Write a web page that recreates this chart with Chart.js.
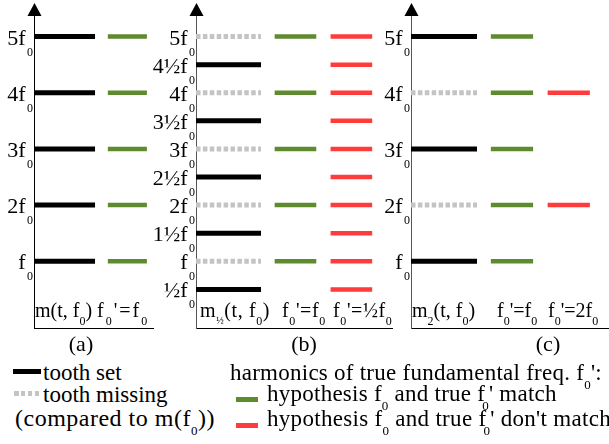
<!DOCTYPE html>
<html>
<head>
<meta charset="utf-8">
<script src="https://cdn.jsdelivr.net/npm/chart.js@4/dist/chart.umd.min.js"></script>
<style>
html,body{margin:0;padding:0;background:#fff;}
#wrap{position:relative;width:609px;height:444px;overflow:hidden;font-family:"Liberation Serif","Times New Roman",serif;color:#000;}
#wrap canvas{position:absolute;top:0;}
.t{position:absolute;white-space:nowrap;line-height:0;}
.f20{font-size:20px;}
.f22{font-size:22px;}
.f23{font-size:23px;}
.s{position:relative;font-size:12px;top:8px;}
.s13{font-size:13px;top:9px;}
.sh{font-size:10px;top:7px;}
.sw{position:absolute;height:5px;}
</style>
</head>
<body>
<div id="wrap">
  <canvas id="ca"></canvas>
  <canvas id="cb"></canvas>
  <canvas id="cc"></canvas>

  <!-- column labels under each panel -->
  <div class="t f20" style="left:35px;top:310px">m(t, f<span class="s">0</span>)</div>
  <div class="t f20" style="left:97px;top:310px;letter-spacing:2px">f<span class="s">0</span>'=f<span class="s">0</span></div>

  <div class="t f20" style="left:200px;top:310px;letter-spacing:0.6px">m<span class="s sh">½</span>(t, f<span class="s">0</span>)</div>
  <div class="t f20" style="left:282px;top:310px;letter-spacing:0.6px">f<span class="s">0</span>'=f<span class="s">0</span></div>
  <div class="t f20" style="left:333px;top:310px;letter-spacing:0.6px">f<span class="s">0</span>'=½f<span class="s">0</span></div>

  <div class="t f20" style="left:412px;top:310px">m<span class="s">2</span>(t, f<span class="s">0</span>)</div>
  <div class="t f20" style="left:497px;top:310px">f<span class="s">0</span>'=f<span class="s">0</span></div>
  <div class="t f20" style="left:548px;top:310px">f<span class="s">0</span>'=2f<span class="s">0</span></div>

  <!-- panel captions -->
  <div class="t f22" style="left:81px;top:344px;transform:translateX(-50%)">(a)</div>
  <div class="t f22" style="left:304px;top:344px;transform:translateX(-50%)">(b)</div>
  <div class="t f22" style="left:548px;top:344px;transform:translateX(-50%)">(c)</div>

  <!-- legend -->
  <div class="sw" style="left:13px;top:369px;width:28px;background:#000"></div>
  <div class="t f23" style="left:43px;top:373px">tooth set</div>
  <div class="sw" style="left:14px;top:391px;width:27px;background:repeating-linear-gradient(to right,#c4c4c4 0,#c4c4c4 4.5px,transparent 4.5px,transparent 6.9px)"></div>
  <div class="t f23" style="left:43px;top:395px">tooth missing</div>
  <div class="t" style="font-size:24px;left:15px;top:418px;letter-spacing:0.5px">(compared to m(f<span class="s s13">0</span>))</div>

  <div class="t f23" style="left:230px;top:373px;letter-spacing:0.25px">harmonics of true fundamental freq. f<span class="s s13">0</span>':</div>
  <div class="sw" style="left:236px;top:397px;width:22px;background:#5e8b2e"></div>
  <div class="t f23" style="left:267px;top:394px;letter-spacing:0.25px">hypothesis f<span class="s s13">0</span> and true f<span class="s s13" style="margin-left:-3px">0</span>' match</div>
  <div class="sw" style="left:236px;top:423px;width:22px;background:#ff3b3b"></div>
  <div class="t f23" style="left:267px;top:419px;letter-spacing:0.3px">hypothesis f<span class="s s13">0</span> and true f<span class="s s13" style="margin-left:-3px">0</span>' don't match</div>
</div>

<script>
// ---------- data (harmonic levels, in multiples of f0) ----------
// y-axis tick values and their label texts (subscript 0 is appended when drawn)
const ticksA = [1, 2, 3, 4, 5];
const tickTextA = ['f', '2f', '3f', '4f', '5f'];
const ticksB = [0.5, 1, 1.5, 2, 2.5, 3, 3.5, 4, 4.5, 5];
const tickTextB = ['½f', 'f', '1½f', '2f', '2½f', '3f', '3½f', '4f', '4½f', '5f'];
const ticksC = [1, 2, 3, 4, 5];
const tickTextC = ['f', '2f', '3f', '4f', '5f'];

// panel (a): m(t, f0)
const toothSetA = [1, 2, 3, 4, 5];
const matchA = [1, 2, 3, 4, 5];

// panel (b): m_1/2(t, f0)
const toothSetB = [0.5, 1.5, 2.5, 3.5, 4.5];
const toothMissingB = [1, 2, 3, 4, 5];
const matchB = [1, 2, 3, 4, 5];
const mismatchB = [0.5, 1, 1.5, 2, 2.5, 3, 3.5, 4, 4.5, 5];

// panel (c): m_2(t, f0)
const toothSetC = [1, 3, 5];
const toothMissingC = [2, 4];
const matchC = [1, 2, 3, 4, 5];
const mismatchC = [2, 4];

// ---------- styling / layout ----------
const COL = { tooth: [0, 1], match: [1.21, 1.85], mismatch: [2.07, 2.71] };
const STYLE = {
  toothSet:     { borderColor: '#000000', borderWidth: 5 },
  toothMissing: { borderColor: '#c4c4c4', borderWidth: 5, borderDash: [4.5, 2.4] },
  match:        { borderColor: '#5e8b2e', borderWidth: 4.5 },
  mismatch:     { borderColor: '#ff3b3b', borderWidth: 4.5 }
};
const Y_MIN = -0.187, Y_MAX = 5.366;
const CANVAS_H = 344, PLOT_TOP = 16, PLOT_BOTTOM = 328;
const FONT = '"Liberation Serif", "Times New Roman", serif';

function segs(values, span) {
  const pts = [];
  values.forEach(v => {
    pts.push({ x: span[0], y: v }, { x: span[1], y: v }, { x: span[1], y: null });
  });
  return pts;
}
function ds(label, values, span, style) {
  return Object.assign({
    label, data: segs(values, span), pointRadius: 0, pointHoverRadius: 0,
    spanGaps: false, tension: 0, borderCapStyle: 'butt', fill: false
  }, style);
}

const deco = {
  id: 'deco',
  afterDraw(chart, args, opts) {
    const { ctx, chartArea } = chart;
    const y = chart.scales.y;
    const ax = Math.floor(chartArea.left) + 0.5;
    ctx.save();
    // arrow head on the vertical axis
    ctx.fillStyle = '#000';
    ctx.beginPath();
    ctx.moveTo(ax, chartArea.top - 13);
    ctx.lineTo(ax - 7, chartArea.top);
    ctx.lineTo(ax + 7, chartArea.top);
    ctx.closePath();
    ctx.fill();
    // tick labels  "<n>f" with subscript 0
    ctx.textBaseline = 'alphabetic';
    ctx.textAlign = 'right';
    opts.ticks.forEach((v, i) => {
      const py = y.getPixelForValue(v);
      ctx.font = '12px ' + FONT;
      const sw = ctx.measureText('0').width;
      ctx.fillText('0', ax - 1.5, py + 19);
      ctx.font = '22px ' + FONT;
      ctx.fillText(opts.texts[i], ax - 1.5 - sw - 1.5, py + 8);
    });
    ctx.restore();
  }
};

function makePanel(id, cfg) {
  const cv = document.getElementById(id);
  const w = cfg.padL + cfg.plotW + cfg.padR;
  cv.width = w; cv.height = CANVAS_H;
  cv.style.width = w + 'px'; cv.style.height = CANVAS_H + 'px';
  cv.style.left = (cfg.axisX - cfg.padL) + 'px';
  new Chart(cv, {
    type: 'line',
    data: { datasets: cfg.datasets },
    options: {
      responsive: false,
      animation: false,
      devicePixelRatio: 1,
      events: [],
      layout: { padding: { left: cfg.padL, right: cfg.padR, top: PLOT_TOP, bottom: CANVAS_H - PLOT_BOTTOM } },
      plugins: { legend: { display: false }, tooltip: { enabled: false }, deco: { ticks: cfg.ticks, texts: cfg.texts } },
      scales: {
        x: {
          type: 'linear', min: 0, max: cfg.xMax,
          ticks: { display: false }, grid: { display: false, drawTicks: false },
          border: { display: true, color: '#000', width: 1 }
        },
        y: {
          type: 'linear', min: Y_MIN, max: Y_MAX,
          ticks: { display: false }, grid: { display: false, drawTicks: false },
          border: { display: true, color: cfg.axisColor, width: 1 }
        }
      }
    },
    plugins: [deco]
  });
}

makePanel('ca', {
  axisX: 34, plotW: 119, padL: 34, padR: 2, xMax: 1.95, axisColor: '#000',
  ticks: ticksA, texts: tickTextA,
  datasets: [
    ds('tooth set', toothSetA, COL.tooth, STYLE.toothSet),
    ds("f0'=f0", matchA, COL.match, STYLE.match)
  ]
});
makePanel('cb', {
  axisX: 196, plotW: 196, padL: 52, padR: 2, xMax: 3.015, axisColor: '#555',
  ticks: ticksB, texts: tickTextB,
  datasets: [
    ds('tooth missing', toothMissingB, COL.tooth, STYLE.toothMissing),
    ds('tooth set', toothSetB, COL.tooth, STYLE.toothSet),
    ds("f0'=f0", matchB, COL.match, STYLE.match),
    ds("f0'=½f0", mismatchB, COL.mismatch, STYLE.mismatch)
  ]
});
makePanel('cc', {
  axisX: 411, plotW: 198, padL: 32, padR: 0, xMax: 3.0, axisColor: '#555',
  ticks: ticksC, texts: tickTextC,
  datasets: [
    ds('tooth missing', toothMissingC, COL.tooth, STYLE.toothMissing),
    ds('tooth set', toothSetC, COL.tooth, STYLE.toothSet),
    ds("f0'=f0", matchC, COL.match, STYLE.match),
    ds("f0'=2f0", mismatchC, COL.mismatch, STYLE.mismatch)
  ]
});
</script>
</body>
</html>
